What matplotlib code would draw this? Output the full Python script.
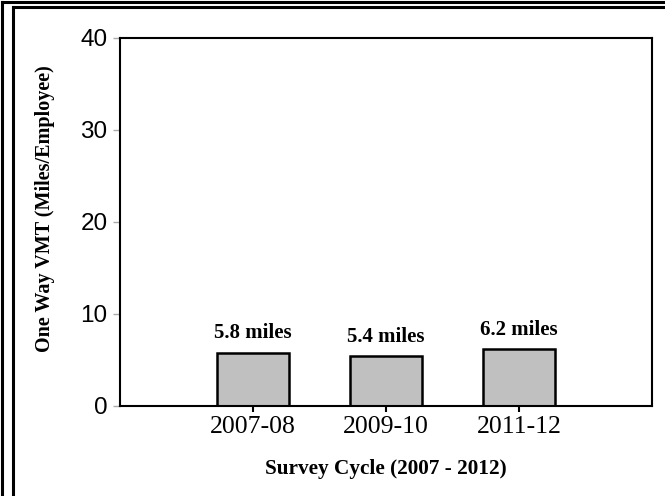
import matplotlib.pyplot as plt
import numpy as np
from matplotlib.lines import Line2D

# data
cycles = ['2007-08', '2009-10', '2011-12']
vmt = [5.8, 5.4, 6.2]
bar_labels = ['5.8 miles', '5.4 miles', '6.2 miles']

W, H = 665, 496
fig = plt.figure(figsize=(W / 100, H / 100), dpi=100)
ax = fig.add_axes([120 / W, 1 - 406 / H, (652 - 120) / W, (406 - 38) / H])

x = np.arange(len(cycles))
ax.bar(x, vmt, width=0.545, color='#c0c0c0', edgecolor='black', linewidth=1.8)
for xi, v, lab in zip(x, vmt, bar_labels):
    ax.text(xi, v + 1.0, lab, ha='center', va='bottom', fontsize=15,
            fontweight='bold', family='Liberation Serif')

ax.set_xlim(-1, 3)
ax.set_ylim(0, 40)
ax.set_yticks([0, 10, 20, 30, 40])
ax.set_xticks(x)
ax.set_xticklabels(cycles, family='Liberation Serif', fontsize=18.5)
for t in ax.get_yticklabels():
    t.set_family('Liberation Sans')
    t.set_fontsize(17.5)
ax.tick_params(axis='y', color='#aaaaaa', length=5, width=1, pad=4)
ax.tick_params(axis='x', color='black', length=4, width=1.5, pad=3)
for sp in ax.spines.values():
    sp.set_linewidth(1.5)

ax.set_xlabel('Survey Cycle (2007 - 2012)', family='Liberation Serif', fontsize=15.3,
              fontweight='bold', labelpad=15)
ax.set_ylabel('One Way VMT (Miles/Employee)', family='Liberation Serif', fontsize=14.5,
              fontweight='bold')
ax.yaxis.set_label_coords(-0.122, 0.535)

# double frame round the picture (cropped on right and bottom)
def fx(px):
    return px / W

def fy(py):
    return 1 - py / H

fig.add_artist(Line2D([fx(1.5), fx(1.5)], [fy(1.5), 0], color='black', lw=2.2))
fig.add_artist(Line2D([fx(1.5), 1], [fy(1.5), fy(1.5)], color='black', lw=2.2))
fig.add_artist(Line2D([fx(13), fx(13)], [fy(7), 0], color='black', lw=2.2))
fig.add_artist(Line2D([fx(13), 1], [fy(7), fy(7)], color='black', lw=2.2))

fig.savefig('out.png', dpi=100)
